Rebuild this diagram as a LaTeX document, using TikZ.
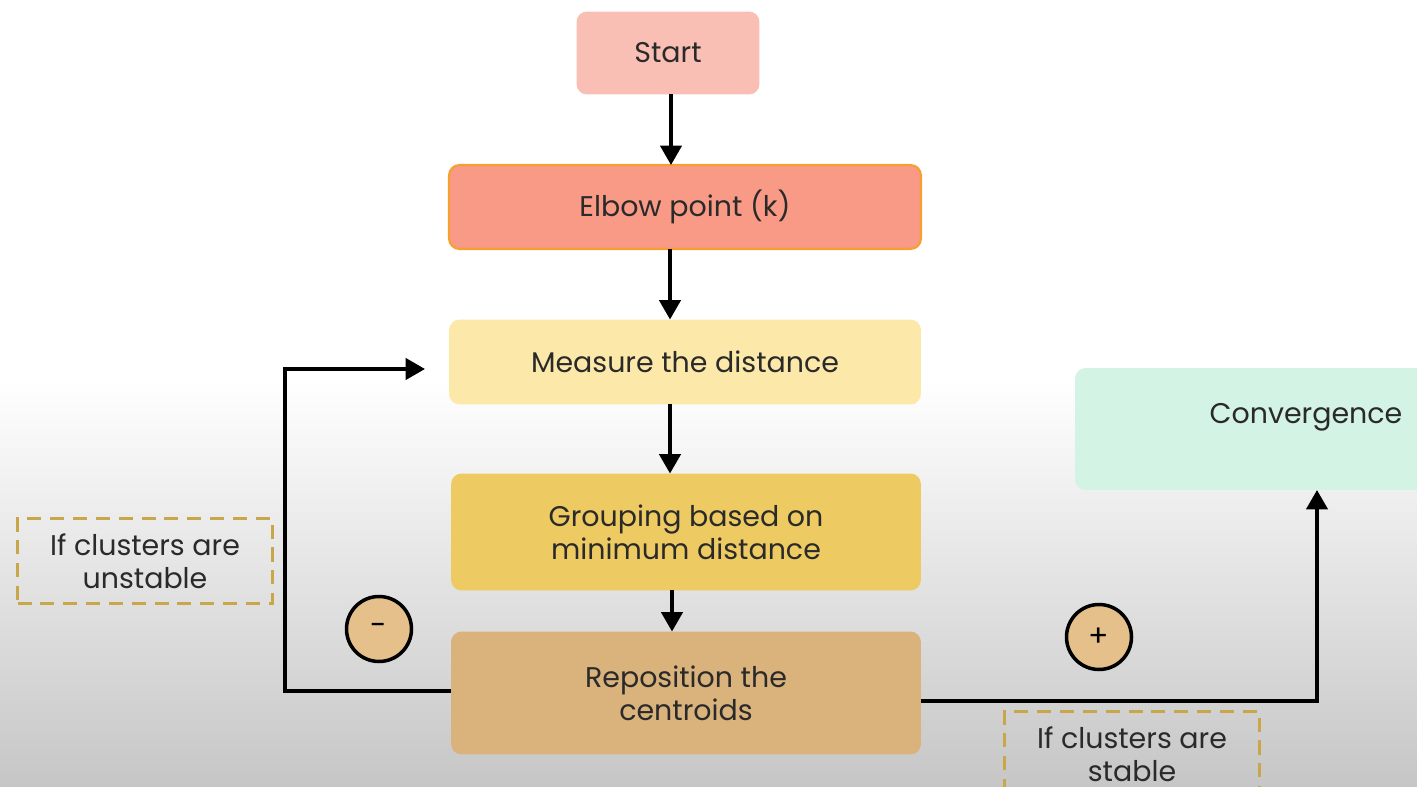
\documentclass[tikz,border=0pt]{standalone}
\usepackage{fontspec}
\setmainfont{Poppins}
\usetikzlibrary{arrows.meta}
\definecolor{start_fill}{HTML}{F9BFB5}
\definecolor{elbow_fill}{HTML}{F89A86}
\definecolor{elbow_line}{HTML}{F5A031}
\definecolor{measure_fill}{HTML}{FCE9A9}
\definecolor{group_fill}{HTML}{EECB62}
\definecolor{repos_fill}{HTML}{D9B27C}
\definecolor{conv_fill}{HTML}{D3F3E5}
\definecolor{sign_fill}{HTML}{E5C08A}
\definecolor{note_line}{HTML}{C8A64A}
\definecolor{bg_gray}{HTML}{C6C6C6}
\definecolor{text_dark}{HTML}{2A2A2A}
\tikzset{step_box/.style={inner sep=0pt, outer sep=0pt, rectangle, rounded corners=6pt, minimum width=9.44cm, minimum height=1.68cm, align=center, text=text_dark, font=\fontsize{16.2}{19}\selectfont}}
\tikzset{note_box/.style={inner sep=0pt, outer sep=0pt, rectangle, draw=note_line, line width=1.3pt, dash pattern=on 8pt off 5pt, minimum width=5.1cm, minimum height=1.7cm, align=center, text=text_dark, font=\fontsize{16.2}{19}\selectfont}}
\tikzset{sign_vertex/.style={inner sep=0pt, outer sep=0pt, circle, minimum size=1.3cm, fill=sign_fill, draw=black, line width=2pt, text=black, font=\fontsize{17}{19}\selectfont}}
\tikzset{flow_edge/.style={color=black, line width=2.2pt, -{Triangle[width=12pt,length=11pt]}}}

\begin{document}
\begin{tikzpicture}[x=0.02cm,y=-0.02cm]
    \clip (0,0) rectangle (1417,787);
    \fill[white] (0,0) rectangle (1417,380);
    \shade[top color=white, bottom color=bg_gray] (0,380) rectangle (1417,787);
    \draw (668,53) coordinate(c_start) (685,207) coordinate(c_elbow) (685,362) coordinate(c_measure)
          (686,532) coordinate(c_group) (686,693) coordinate(c_repos) (1311,429) coordinate(c_conv);
    \draw (c_start) node[step_box, fill=start_fill, minimum width=3.66cm, minimum height=1.66cm] (start) {Start};
    \draw (c_elbow) node[step_box, fill=elbow_fill, draw=elbow_line, line width=1.2pt] (elbow) {Elbow point (k)};
    \draw (c_measure) node[step_box, fill=measure_fill, minimum height=1.7cm] (measure) {Measure the distance};
    \draw (c_group) node[step_box, fill=group_fill, minimum width=9.4cm, minimum height=2.34cm] (group) {Grouping based on\\minimum distance};
    \draw (c_repos) node[step_box, fill=repos_fill, minimum width=9.4cm, minimum height=2.46cm] (repos) {Reposition the\\centroids};
    \draw (c_conv) node[step_box, fill=conv_fill, minimum width=9.44cm, minimum height=2.44cm] (conv) {};
    \draw (1306,417) node[text=text_dark, font=\fontsize{16.2}{19}\selectfont] (conv_text) {Convergence};
    \draw (145,561) node[note_box] (unstable) {If clusters are\\unstable};
    \draw (1132,754) node[note_box] (stable) {If clusters are\\stable};
    \draw (379,629) node[sign_vertex] (minus) {-};
    \draw (1099,637) node[sign_vertex] (plus) {+};
    \draw (285,691) coordinate(loop_a) (285,369) coordinate(loop_b) (425,369) coordinate(loop_end);
    \draw (1317,701) coordinate(exit_a);
    \draw[flow_edge] (start.south -| 671,0) -- (elbow.north -| 671,0);
    \draw[flow_edge] (elbow.south -| 670,0) -- (measure.north -| 670,0);
    \draw[flow_edge] (measure.south -| 670,0) -- (group.north -| 670,0);
    \draw[flow_edge] (group.south -| 672,0) -- (repos.north -| 672,0);
    \draw[flow_edge] (repos.west |- loop_a) -- (loop_a) -- (loop_b) -- (loop_end);
    \draw[flow_edge] (repos.east |- exit_a) -- (exit_a) -- (conv.south -| exit_a);
  \end{tikzpicture}
\end{document}
